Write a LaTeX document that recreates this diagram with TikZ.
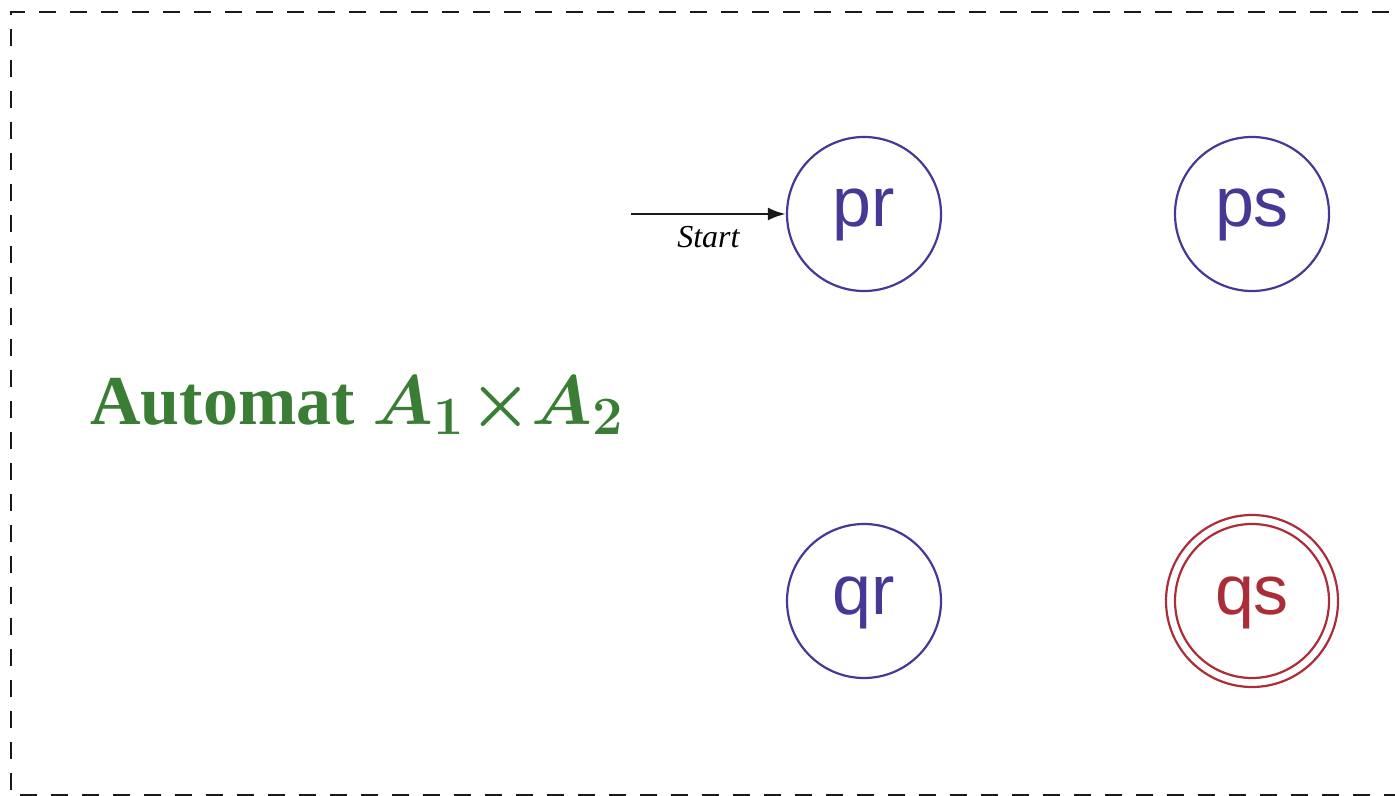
\documentclass[tikz,border=0pt]{standalone}
\usepackage{fix-cm}
\usepackage[no-math]{fontspec}
\setmainfont{Liberation Serif}
\newfontfamily\statefont{Liberation Sans}
\usetikzlibrary{arrows.meta}
\DeclareMathSizes{35}{35}{27}{20}
\definecolor{stateblue}{RGB}{72,56,150}
\definecolor{statered}{RGB}{170,45,55}
\definecolor{titlegreen}{RGB}{58,125,52}
\tikzset{
  state/.style={circle, draw=stateblue, line width=1.1pt, minimum size=77pt, inner sep=0pt,
    text=stateblue, font=\statefont\fontsize{35}{40}\selectfont, text height=13pt, text depth=0pt},
  accept/.style={state, draw=statered, text=statered},
  frame/.style={draw=black!90, line width=1pt, dash pattern=on 8.5pt off 7pt},
  startarrow/.style={draw=black!90, line width=1.4pt, -{Latex[length=9pt,width=6.5pt]}},
}
\begin{document}
\begin{tikzpicture}[x=0.5pt,y=-0.5pt]
\useasboundingbox (0,0) rectangle (1395,796);
\draw[frame] (1420,12) -- (11,12) -- (11,795) -- (1420,795);
\node[state] (pr) at (864,214) {pr};
\node[state] (ps) at (1252,214) {ps};
\node[state] (qr) at (864,601) {qr};
\node[accept] (qs) at (1252,601) {qs};
\draw[statered, line width=1.1pt] (qs.center) circle[radius=43pt];
\coordinate (s0) at (631,214);
\draw[startarrow] (s0) -- node[below, text=black, font=\itshape\fontsize{16}{18}\selectfont, yshift=-2pt] {Start} (pr);
\node[anchor=base west, text=titlegreen, font=\bfseries\boldmath\fontsize{35}{40}\selectfont, inner sep=0pt] (title) at (90,424) {Automat $A_1\mskip1mu{\times}A_2$};
\end{tikzpicture}
\end{document}
